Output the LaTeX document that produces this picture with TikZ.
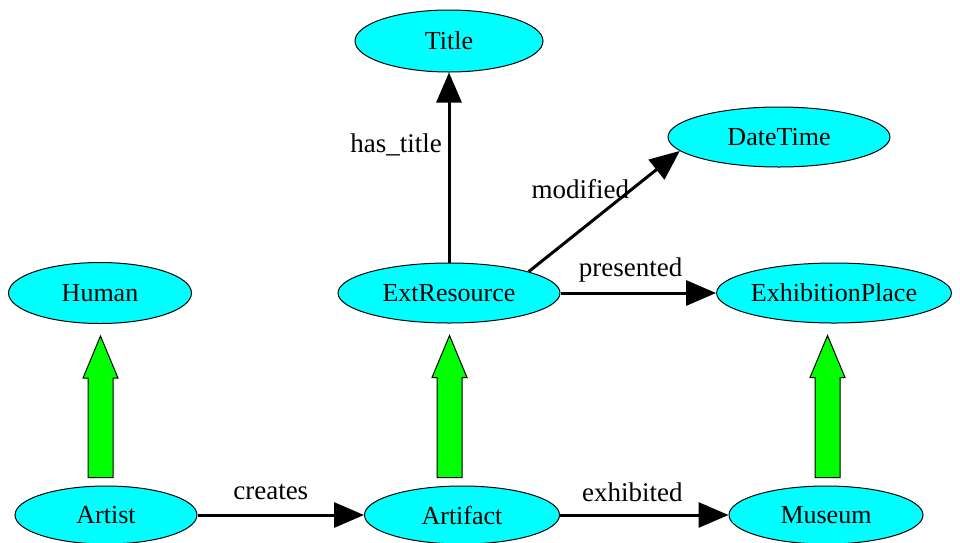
\documentclass[tikz,border=0pt]{standalone}
\usepackage{fontspec}
\setmainfont{Liberation Serif}
\usetikzlibrary{shapes.geometric,arrows.meta,calc}
\definecolor{classfill}{RGB}{0,255,255}
\definecolor{isafill}{RGB}{0,255,0}
\tikzset{
  cls/.style={ellipse, draw=black, line width=1pt, fill=classfill, inner sep=0pt,
              font=\fontsize{26}{30}\selectfont},
  rel/.style={draw=black, line width=3pt, -{Triangle[length=30pt,width=25pt]}},
  rellabel/.style={font=\fontsize{27}{30}\selectfont, inner sep=0pt},
  isa/.style={draw=black, line width=1pt, fill=isafill, line join=miter},
}
% Block arrow for a subclass link: #1 subclass, #2 superclass, #3 x of the arrow axis
\newcommand\isaarrow[3]{%
  \path[isa] let \p1=(#1.north), \p2=(#2.south) in
    (#3-12.5pt, \y1+8pt) -- (#3-12.5pt, \y2-54pt) -- (#3-17.5pt, \y2-54pt)
    -- (#3, \y2-12pt) -- (#3+17.5pt, \y2-54pt) -- (#3+12.5pt, \y2-54pt)
    -- (#3+12.5pt, \y1+8pt) -- cycle;
}
\begin{document}
\begin{tikzpicture}[x=1pt,y=-1pt]
  \useasboundingbox (0,0) rectangle (960,542);

  % classes
  \node[cls, minimum width=188pt, minimum height=62pt] (title)  at (449,41)  {Title};
  \node[cls, minimum width=222pt, minimum height=60pt] (dt)     at (779,137) {DateTime};
  \node[cls, minimum width=183pt, minimum height=61pt] (human)  at (100,293) {Human};
  \node[cls, minimum width=222pt, minimum height=60pt] (ext)    at (449,293) {ExtResource};
  \node[cls, minimum width=233pt, minimum height=60pt] (exh)    at (834,293) {ExhibitionPlace};
  \node[cls, minimum width=182pt, minimum height=58pt] (artist) at (106,515) {Artist};
  \node[cls, minimum width=195pt, minimum height=58pt] (artifact) at (462,515) {Artifact};
  \node[cls, minimum width=194pt, minimum height=58pt] (museum) at (826,515) {Museum};

  % properties
  \draw[rel] (ext.north) -- (title.south)
    node[rellabel, pos=.62, xshift=-53pt] (lhas) {has\_title};
  \draw[rel] (ext.15) -- (dt.188)
    node[rellabel, pos=.5, xshift=-24pt, yshift=22pt] (lmod) {modified};
  \draw[rel] (ext) -- (exh)
    node[rellabel, pos=.45, yshift=23pt] (lpres) {presented};
  \draw[rel] (artist) -- (artifact)
    node[rellabel, pos=.44, yshift=23pt] (lcre) {creates};
  \draw[rel] (artifact) -- (museum)
    node[rellabel, pos=.43, yshift=23pt] (lexh) {exhibited};

  % subclass links
  \isaarrow{artist}{human}{100.5pt}
  \isaarrow{artifact}{ext}{449.5pt}
  \isaarrow{museum}{exh}{827.5pt}
\end{tikzpicture}
\end{document}
